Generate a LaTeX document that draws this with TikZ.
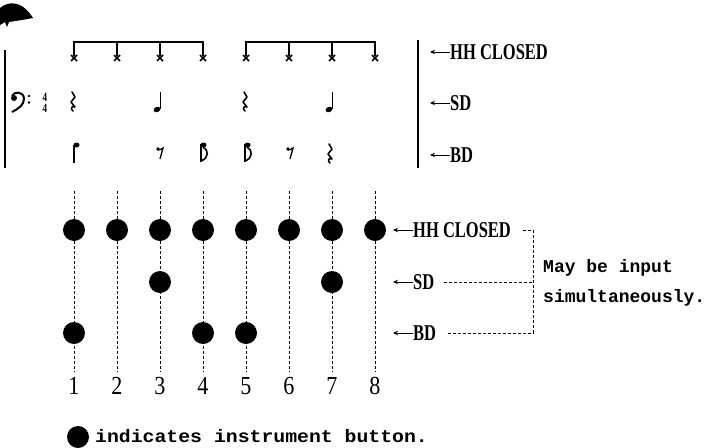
\documentclass[tikz,border=0pt]{standalone}
\usepackage{fontspec}
\usetikzlibrary{arrows.meta}
\newfontfamily\lblfont{Liberation Serif}[FakeStretch=0.73]
\newfontfamily\digfont{Liberation Serif}[FakeStretch=0.85]
\newfontfamily\mfont{Liberation Mono}[FakeStretch=1.0]
\newfontfamily\kfont{Liberation Mono}[FakeStretch=1.1]
\begin{document}
\begin{tikzpicture}[x=1pt,y=-1pt,
  lbl/.style={font=\lblfont\bfseries\fontsize{22.6}{24}\selectfont, inner sep=0pt, anchor=west, text depth=0pt},
  num/.style={font=\digfont\fontsize{26}{28}\selectfont, inner sep=0pt, text depth=0pt},
  note/.style={font=\mfont\bfseries\fontsize{18}{20}\selectfont, inner sep=0pt, anchor=base west},
  keynote/.style={font=\kfont\bfseries\fontsize{18}{20}\selectfont, inner sep=0pt, anchor=base west},
  tsig/.style={font=\lblfont\bfseries\fontsize{12.5}{12.5}\selectfont, inner sep=0pt, text depth=0pt},
  btn/.style={circle, fill=black, minimum size=22pt, inner sep=0pt},
  guide/.style={dash pattern=on 3pt off 2pt, line width=0.9pt},
  bracket/.style={dash pattern=on 3pt off 2pt, line width=0.9pt},
  ptr/.style={-{Stealth[length=5pt,width=4.5pt]}, line width=1pt},
  qrest/.pic={\draw[line width=1.6pt, line join=round, line cap=round]
      (0,-9) -- (3,-4) -- (-1,1) -- (3,6) .. controls (0,4) and (-2,8) .. (1,10);},
  qnote/.pic={\draw[line width=1.6pt] (2.5,-9) -- (2.5,8);
      \fill[rotate around={25:(-1,8.5)}] (-1,8.5) ellipse [x radius=3.6pt, y radius=2.6pt];},
  bnote/.pic={\draw[line width=1.8pt] (0,-8) -- (0,10);
      \fill (2.5,-8) ellipse [x radius=3pt, y radius=2.5pt];},
  dnote/.pic={\draw[line width=1.8pt] (0,-9) -- (0,9);
      \fill (2.5,-8) ellipse [x radius=3pt, y radius=2.5pt];
      \draw[line width=1.6pt] (2,-6) .. controls (8,-3) and (8,5) .. (0,8);},
  erest/.pic={\fill (-2,-4) circle (1.8pt);
      \draw[line width=1.3pt] (-2,-3) .. controls (0,-3) and (2,-4) .. (3,-5) -- (0,6);},
  hhmark/.pic={\draw[line width=1.6pt] (0,-17) -- (0,-2);
      \draw[line width=1.5pt] (-3,-3) -- (3,3) (-3,3) -- (3,-3);}
]
\useasboundingbox (0,0) rectangle (709,447);

% scanned blob top-left
\fill (0,25) -- (0,8) .. controls (8,1) and (22,0) .. (33,18) -- (22,20) -- (9,22) -- (7,27) -- (5,22) -- cycle;

% ---- notation ----
\draw[line width=2pt] (5,50) -- (5,168);
\draw[line width=2pt] (418,40) -- (418,168);
% bass clef
\fill (14,98) circle (3pt);
\draw[line width=2pt] (12,96) .. controls (14,91) and (24,91) .. (24,99) .. controls (24,105) and (18,109) .. (12,112);
\fill (29,96) circle (1.4pt) (29,102.5) circle (1.4pt);
\node[tsig] (ts1) at (45,97) {4};
\node[tsig] (ts2) at (45,108) {4};
% hh beams
\draw[line width=2pt] (74,42) -- (204,42);
\draw[line width=2pt] (245,42) -- (376,42);
\foreach \i in {1,...,8} {
  \pgfmathsetmacro\xx{31+43*\i}
  \pic at (\xx,58) {hhmark};
}
% SD row
\pic at (72,101) {qrest};
\pic at (158,101) {qnote};
\pic at (244,101) {qrest};
\pic at (330,101) {qnote};
% BD row
\pic at (74,153) {bnote};
\pic at (160,153) {erest};
\pic at (201,153) {dnote};
\pic at (245,153) {dnote};
\pic at (290,153) {erest};
\pic at (329,153) {qrest};
% top labels
\node[lbl] (hhT) at (450,52) {HH CLOSED};
\node[lbl] (sdT) at (450,103) {SD};
\node[lbl] (bdT) at (450,155) {BD};
\coordinate (hhTa) at (430,52);
\coordinate (sdTa) at (430,103);
\coordinate (bdTa) at (430,155);
\draw[ptr] (hhT.west) -- (hhTa);
\draw[ptr] (sdT.west) -- (sdTa);
\draw[ptr] (bdT.west) -- (bdTa);

% ---- button grid ----
\foreach \i in {1,...,8} {
  \pgfmathsetmacro\xx{31+43*\i}
  \node[num] (n\i) at (\xx,386) {\i};
  \coordinate (g\i) at (\xx,191);
  \draw[guide, shorten >=5pt] (g\i) -- (n\i.north);
  \node[btn] (h\i) at (\xx,230) {};
}
\node[btn] (s3) at (160,282) {};
\node[btn] (s7) at (332,282) {};
\node[btn] (b1) at (74,333) {};
\node[btn] (b4) at (203,333) {};
\node[btn] (b5) at (246,333) {};

\node[lbl] (hhB) at (413,230) {HH CLOSED};
\node[lbl] (sdB) at (413,282) {SD};
\node[lbl] (bdB) at (413,333) {BD};
\coordinate (hhBa) at (393,230);
\coordinate (sdBa) at (393,282);
\coordinate (bdBa) at (393,333);
\draw[ptr] (hhB.west) -- (hhBa);
\draw[ptr] (sdB.west) -- (sdBa);
\draw[ptr] (bdB.west) -- (bdBa);

\coordinate (brT) at (533,230);
\coordinate (brM) at (533,282);
\coordinate (brB) at (533,333);
\draw[bracket] ([xshift=12pt]hhB.east) -- (brT) -- (brB) -- ([xshift=10pt]bdB.east);
\draw[bracket] ([xshift=10pt]sdB.east) -- (brM);

\node[note] (may) at (543,272) {May be input};
\node[note] (sim) at (543,302) {simultaneously.};

\node[btn] (key) at (78,437) {};
\node[keynote] (keytxt) at (95,442) {indicates instrument button.};
\end{tikzpicture}
\end{document}
